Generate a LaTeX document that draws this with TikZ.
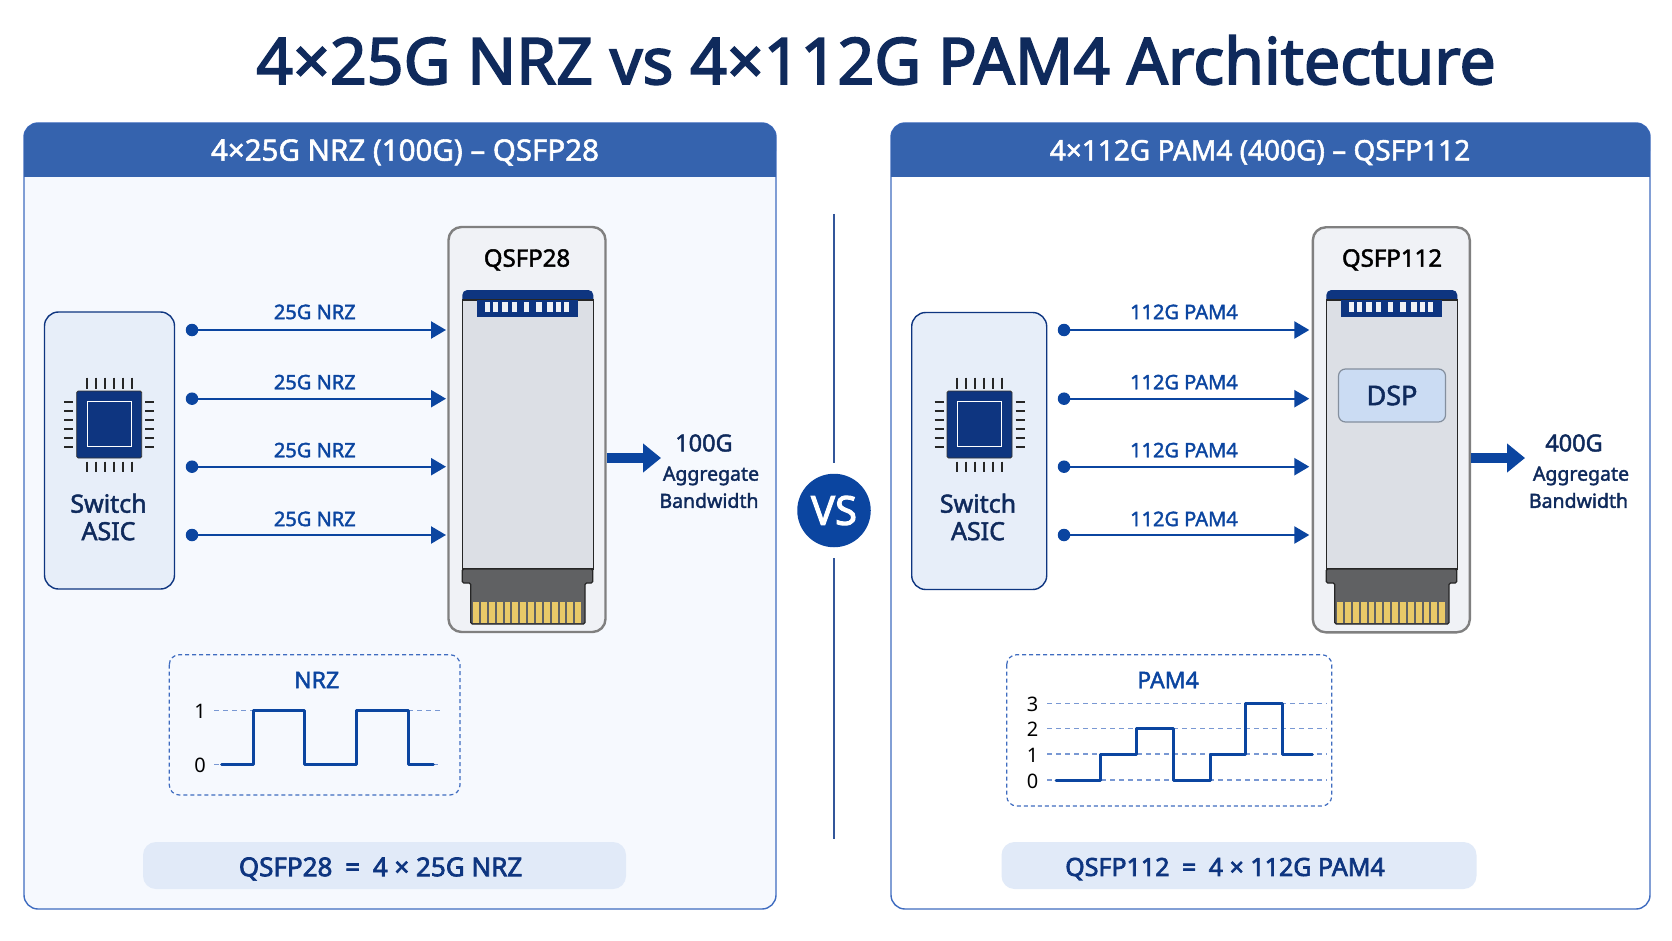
\documentclass[tikz,border=0pt]{standalone}
\usepackage{fontspec}
\setmainfont{Noto Sans}
\newfontfamily\heavyfont{Noto Sans}[FakeBold=2.6]
\newfontfamily\midfont{Noto Sans}[FakeBold=1.9]
\usetikzlibrary{arrows.meta}
\usetikzlibrary{positioning}
\definecolor{navy}{HTML}{0F2A5C}
\definecolor{wireblue}{HTML}{0B45A0}
\definecolor{headblue}{HTML}{3563AE}
\definecolor{edgeblue}{HTML}{3F6CC0}
\definecolor{chipblue}{HTML}{0E3580}
\definecolor{asicfill}{HTML}{E7EEF9}
\definecolor{pillfill}{HTML}{E1EAF8}
\definecolor{dspfill}{HTML}{CBDCF3}
\definecolor{modfill}{HTML}{F0F2F6}
\definecolor{bodyfill}{HTML}{DCDFE5}
\definecolor{plugfill}{HTML}{606163}
\definecolor{padgold}{HTML}{E9C968}
\definecolor{leftfill}{HTML}{F6F9FE}
\tikzset{
  txt/.style={inner sep=0pt, align=center},
  title/.style={txt, text=navy, font=\fontsize{64.4}{70}\heavyfont},
  hdr/.style={txt, text=white, font=\fontsize{#1}{32}\midfont},
  panelbox/.style={draw=edgeblue, line width=1.4pt, rounded corners=14pt},
  asicbox/.style={draw=chipblue, fill=asicfill, line width=1.4pt, rounded corners=14pt, minimum width=#1, minimum height=277pt, inner sep=0pt},
  modbox/.style={draw=black!50, fill=modfill, line width=2.4pt, rounded corners=13pt, minimum height=405pt, inner sep=0pt},
  wiredot/.style={circle, fill=wireblue, minimum size=12.5pt, inner sep=0pt},
  wire/.style={draw=wireblue, line width=2.4pt, -{Triangle[length=15pt,width=17pt]}},
  fatwire/.style={draw=wireblue, line width=10pt, -{Triangle[length=18pt,width=28pt]}},
  wirelabel/.style={txt, text=wireblue, font=\fontsize{20}{24}\midfont},
  asictxt/.style={txt, text=navy, font=\fontsize{25}{28}\midfont},
  modtxt/.style={txt, text=black, font=\fontsize{24}{28}\midfont},
  ratetxt/.style={txt, text=navy, font=\fontsize{23.5}{28}\midfont},
  aggtxt/.style={txt, text=navy, font=\fontsize{19.5}{27}\midfont},
  scopebox/.style={draw=edgeblue, line width=1.2pt, dash pattern=on 4pt off 3pt, rounded corners=10pt},
  level/.style={draw=edgeblue!70, line width=1.1pt, dash pattern=on 5pt off 4pt},
  signal/.style={draw=wireblue, line width=3pt, line join=round, line cap=round},
  scopetitle/.style={txt, text=wireblue, font=\fontsize{23}{26}\midfont},
  leveltxt/.style={txt, text=black, font=\fontsize{20}{24}\selectfont},
  pill/.style={fill=pillfill, rounded corners=13pt, minimum height=47pt, inner sep=0pt},
  pilltxt/.style={text=chipblue, inner sep=0pt},
}
% chip symbol, centred on #1,#2
\newcommand{\chipicon}[2]{
  \begin{scope}[shift={(#1,#2)}]
    \fill[chipblue, draw=black!80, line width=0.8pt, rounded corners=1.5pt] (-32.5,-33.5) rectangle (32.5,33.5);
    \draw[white, line width=1.4pt] (-22,-23) rectangle (22,22);
    \foreach \p in {-22.5,-13.5,-4.5,4.5,13.5,22.5} {
      \draw[black!85, line width=1.6pt] (\p,-47) -- (\p,-36);
      \draw[black!85, line width=1.6pt] (\p,37) -- (\p,47);
      \draw[black!85, line width=1.6pt] (-45,\p) -- (-36,\p);
      \draw[black!85, line width=1.6pt] (36,\p) -- (45,\p);
    }
  \end{scope}
}
% module inside, moved right by #1
\newcommand{\modinside}[1]{
  \begin{scope}[xshift=#1pt]
    \fill[chipblue, rounded corners=5pt] (462.3,290) rectangle (593.3,310);
    \draw[black!85, fill=bodyfill, line width=1.2pt] (462.3,300) rectangle (593.3,569);
    \fill[chipblue] (476.7,300) rectangle (578.3,316.7);
    \foreach \p in {487.3,495.7,505,514.3,526.7,539,550,558.3,566.7}
      \fill[modfill] (\p-2.6,301.7) rectangle (\p+2.6,311.7);
    \draw[black!85, fill=plugfill, line width=1.2pt, rounded corners=1.5pt]
      (462.3,569) -- (462.3,583) -- (470.7,583) -- (470.7,624) -- (585,624) -- (585,583) -- (592.7,583) -- (592.7,569) -- cycle;
    \foreach \p in {0,...,13}
      \fill[padgold] (473.2+\p*7.85,601.7) rectangle (479+\p*7.85,622.5);
  \end{scope}
}
\begin{document}
\begin{tikzpicture}[x=1pt, y=-1pt, >=Stealth]
  \useasboundingbox[fill=white] (0,0) rectangle (1672,941);

  \node[title] (maintitle) at (876,60) {4×25G NRZ vs 4×112G PAM4 Architecture};

  % panels
  \draw[panelbox, fill=leftfill] (24,123) rectangle (776,909);
  \draw[panelbox, fill=white] (891,123) rectangle (1650,909);
  \fill[headblue, rounded corners=14pt] (24,123) rectangle (776,165);
  \fill[headblue] (24,145) rectangle (776,177);
  \fill[headblue, rounded corners=14pt] (891,123) rectangle (1650,165);
  \fill[headblue] (891,145) rectangle (1650,177);
  \node[hdr=29.5] (hdrleft) at (405,152.5) {4×25G NRZ (100G) – QSFP28};
  \node[hdr=28] (hdrright) at (1260,152.5) {4×112G PAM4 (400G) – QSFP112};

  % vs
  \node[circle, fill=wireblue, minimum size=73.5pt, inner sep=0pt, text=white, font=\fontsize{40}{44}\heavyfont] (vs) at (834,510.5) {VS};
  \coordinate (vstop) at (834,214);
  \coordinate (vsbot) at (834,839);
  \draw[edgeblue!80!black, line width=1.4pt] (vstop) -- (834,463);
  \draw[edgeblue!80!black, line width=1.4pt] (834,558) -- (vsbot);

  % left side
  \node[asicbox=130pt] (asicA) at (109.5,450.5) {};
  \chipicon{109.2}{424.5}
  \node[asictxt] (asicAtxt) at (108.5,517) {Switch\\[-0.5pt]ASIC};

  \node[modbox, minimum width=157pt] (modA) at (527,429.5) {};
  \node[modtxt] (modAtxt) at (527,260) {QSFP28};
  \modinside{0}

  \foreach \n/\y/\g in {1/330/9.5,2/398.7/8,3/466.7/8,4/535/7.5} {
    \node[wiredot] (dotA\n) at (192,\y) {};
    \coordinate (endA\n) at (446,\y);
    \draw[wire] (dotA\n) -- node[wirelabel, pos=.47, above=\g pt] {25G NRZ} (endA\n);
  }

  \coordinate (outA) at (661,458);
  \draw[fatwire] (modA.east |- outA) -- (outA);
  \node[ratetxt] (rateA) at (704,443) {100G};
  \node[aggtxt] (aggA) at (711,476) {Aggregate};
  \node[aggtxt] (bandA) at (709,500.5) {Bandwidth};

  \draw[scopebox] (169.3,654.7) rectangle (460,795);
  \node[scopetitle] (nrzname) at (316.7,680) {NRZ};
  \node[leveltxt] (nrzone) at (200,711.5) {1};
  \node[leveltxt] (nrzzero) at (200,765) {0};
  \draw[level] (214,710.7) -- (253,710.7);
  \draw[level] (408,710.7) -- (441.7,710.7);
  \draw[level] (214,764.3) -- (222,764.3);
  \draw[level] (433,764.3) -- (441.7,764.3);
  \draw[signal] (221.7,764.3) -| (253.3,710.7) -| (304.3,764.3) -| (356.7,710.7) -| (408.3,764.3) -- (433.3,764.3);

  \node[pill, minimum width=483pt] (pillA) at (384.5,865.5) {};
  \node[pilltxt, font=\fontsize{26}{28}\heavyfont] (pillAtxt) at (380.6,869) {QSFP28\hspace{6pt} = \hspace{6pt}4 × 25G NRZ};

  % right side
  \node[asicbox=135pt] (asicB) at (979.2,451) {};
  \chipicon{979.5}{424.5}
  \node[asictxt] (asicBtxt) at (978,517) {Switch\\[-0.5pt]ASIC};

  \node[modbox, minimum width=157pt] (modB) at (1391.3,429.8) {};
  \node[modtxt] (modBtxt) at (1392,260) {QSFP112};
  \modinside{864}
  \node[draw=black!35!dspfill, fill=dspfill, line width=1.2pt, rounded corners=7pt, minimum width=107pt, minimum height=53pt, inner sep=0pt, text=navy, font=\fontsize{27}{30}\midfont] (dsp) at (1392,395.5) {DSP};

  \foreach \n/\y/\g in {1/330/9.5,2/398.7/8,3/466.7/8,4/535/7.5} {
    \node[wiredot] (dotB\n) at (1064,\y) {};
    \coordinate (endB\n) at (1309.3,\y);
    \draw[wire] (dotB\n) -- node[wirelabel, pos=.475, above=\g pt] {112G PAM4} (endB\n);
  }

  \coordinate (outB) at (1525,458);
  \draw[fatwire] (modB.east |- outB) -- (outB);
  \node[ratetxt] (rateB) at (1574,443) {400G};
  \node[aggtxt] (aggB) at (1581,476) {Aggregate};
  \node[aggtxt] (bandB) at (1578.5,500.5) {Bandwidth};

  \draw[scopebox] (1006.7,654.7) rectangle (1331.7,806);
  \node[scopetitle] (pamname) at (1168,680) {PAM4};
  \foreach \v/\y in {3/703.3,2/728.7,1/754,0/780} {
    \node[leveltxt] (pam\v) at (1032.5,\y+1) {\v};
    \draw[level] (1047.3,\y) -- (1326.7,\y);
  }
  \draw[signal] (1056,780) -| (1100,754) -| (1136.7,728.7) -| (1173.3,780) -| (1210,754) -| (1245.7,703.3) -| (1282.7,754) -- (1312.3,754);

  \node[pill, minimum width=475pt] (pillB) at (1239,865.5) {};
  \node[pilltxt, font=\fontsize{25}{28}\heavyfont] (pillBtxt) at (1225,869) {QSFP112\hspace{6pt} = \hspace{6pt}4 × 112G PAM4};
\end{tikzpicture}
\end{document}
